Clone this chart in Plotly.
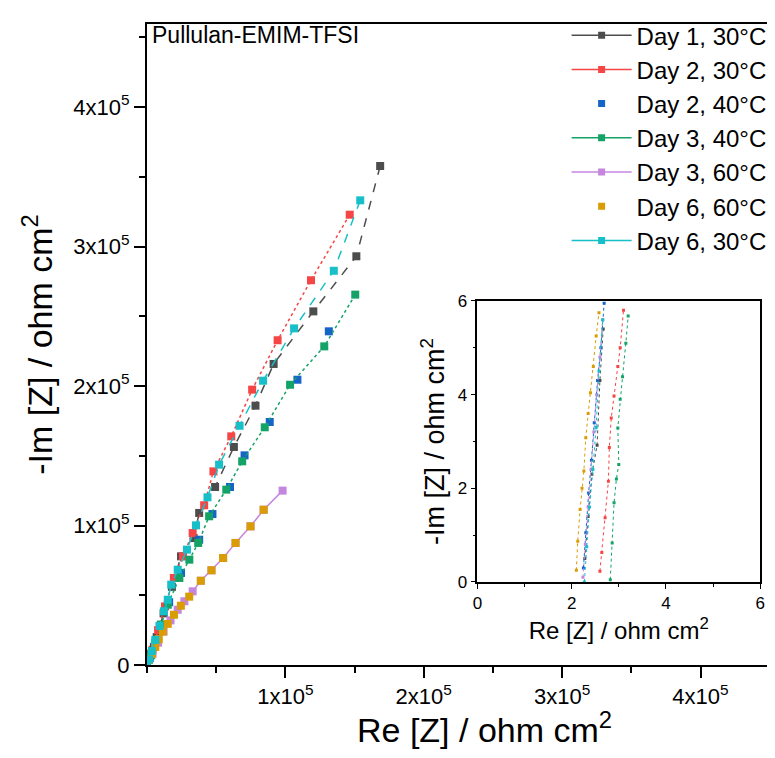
import plotly.graph_objects as go

# ---------------- data (ohm cm^2) ----------------
series_names = ["Day 1, 30°C", "Day 2, 30°C", "Day 2, 40°C", "Day 3, 40°C",
                "Day 3, 60°C", "Day 6, 60°C", "Day 6, 30°C"]
series_colors = ["#4d4d4d", "#f54545", "#1565c8", "#14a366",
                 "#c586e0", "#d99c05", "#17c0c8"]

day1_30_re = [168500, 151300, 120200, 91500, 78400, 62800, 49200, 37700, 33700, 24600, 18000, 12000, 7000, 3000, 0]
day1_30_im = [357700, 293000, 253500, 215800, 185900, 156300, 127600, 109000, 91000, 77900, 56000, 37000, 20000, 8000, 0]

day2_30_re = [146500, 118500, 94400, 76000, 60900, 48000, 41300, 33000, 26000, 19400, 13000, 8000, 4000, 0]
day2_30_im = [322800, 275800, 232800, 197400, 163900, 138800, 114500, 94600, 78000, 62400, 42000, 25000, 11000, 0]

day2_40_re = [131400, 108700, 88700, 70500, 60000, 47300, 37700, 24600, 16000, 10000, 5000, 2000]
day2_40_im = [239200, 204500, 174200, 150300, 127600, 108200, 89800, 66000, 45000, 28000, 13000, 5000]

day3_40_re = [150500, 128100, 103400, 85100, 68800, 57300, 44900, 37000, 30600, 23400, 15000, 10000, 6000, 3000, 0]
day3_40_im = [265500, 228400, 200900, 170400, 146000, 125700, 106600, 87500, 75500, 62400, 43200, 29000, 16000, 7000, 0]

day3_60_re = [98000, 84300, 74800, 64000, 55000, 46600, 38900, 33000, 27000, 22200, 17000, 12000, 8000, 4000, 0]
day3_60_im = [125000, 111300, 99400, 87500, 76700, 67900, 60400, 52800, 45700, 39600, 32000, 24000, 16000, 8000, 0]

day6_60_re = [84300, 74800, 64000, 55000, 46600, 38900, 30500, 24500, 19500, 15000, 11500, 8500, 6000, 3500, 1500]
day6_60_im = [111300, 99400, 87500, 76700, 67900, 60400, 49000, 42500, 36000, 29500, 24000, 18500, 13000, 8000, 3500]

day6_30_re = [154100, 135000, 106300, 83900, 66900, 52100, 43700, 35400, 28900, 22200, 17500, 15000, 12200, 9000, 6000, 3500, 1500, 0]
day6_30_im = [333100, 282600, 241300, 203800, 171500, 143600, 120200, 100100, 82700, 68300, 57600, 46800, 38500, 28000, 18000, 10000, 4000, 0]

# inset (high-frequency end, ohm cm^2)
inset_day1_30_re = [2.28, 2.35, 2.43, 2.54, 2.60, 2.67]
inset_day1_30_im = [0.50, 1.40, 2.30, 2.92, 4.30, 5.40]
inset_day2_30_re = [2.60, 2.64, 2.71, 2.78, 2.80, 2.84, 2.90, 2.98, 3.03, 3.10]
inset_day2_30_im = [0.23, 0.63, 1.37, 2.15, 2.87, 3.50, 3.97, 4.60, 5.00, 5.80]
inset_day2_40_re = [2.25, 2.30, 2.36, 2.42, 2.48, 2.55, 2.62, 2.69]
inset_day2_40_im = [0.30, 1.05, 1.90, 2.60, 3.40, 4.30, 5.00, 5.95]
inset_day3_40_re = [2.82, 2.86, 2.90, 2.95, 3.00, 2.98, 3.03, 3.08, 3.15, 3.20]
inset_day3_40_im = [0.05, 0.83, 1.69, 2.20, 2.51, 3.29, 3.90, 4.38, 5.10, 5.68]
inset_day3_60_re = [2.24, 2.29, 2.35, 2.41, 2.47, 2.53, 2.60, 2.66]
inset_day3_60_im = [0.10, 0.80, 1.60, 2.40, 3.20, 4.00, 4.80, 5.60]
inset_day6_60_re = [2.10, 2.13, 2.18, 2.22, 2.26, 2.30, 2.35, 2.40, 2.46, 2.52, 2.58]
inset_day6_60_im = [0.25, 0.87, 1.55, 2.00, 2.37, 3.08, 3.60, 4.04, 4.60, 5.25, 5.75]
inset_day6_30_re = [2.27, 2.32, 2.38, 2.45, 2.52, 2.58, 2.66]
inset_day6_30_im = [0.00, 0.75, 1.60, 2.40, 3.30, 4.50, 5.60]

main_re = [day1_30_re, day2_30_re, day2_40_re, day3_40_re, day3_60_re, day6_60_re, day6_30_re]
main_im = [day1_30_im, day2_30_im, day2_40_im, day3_40_im, day3_60_im, day6_60_im, day6_30_im]
inset_re = [inset_day1_30_re, inset_day2_30_re, inset_day2_40_re, inset_day3_40_re,
            inset_day3_60_re, inset_day6_60_re, inset_day6_30_re]
inset_im = [inset_day1_30_im, inset_day2_30_im, inset_day2_40_im, inset_day3_40_im,
            inset_day3_60_im, inset_day6_60_im, inset_day6_30_im]
line_dash = ["dash", "dot", None, "dot", "solid", None, "dash"]

x_tickvals = [100000, 200000, 300000, 400000]
x_ticktext = ["1x10<sup>5</sup>", "2x10<sup>5</sup>", "3x10<sup>5</sup>", "4x10<sup>5</sup>"]
y_tickvals = [0, 100000, 200000, 300000, 400000]
y_ticktext = ["0", "1x10<sup>5</sup>", "2x10<sup>5</sup>", "3x10<sup>5</sup>", "4x10<sup>5</sup>"]
inset_ticks = [0, 2, 4, 6]

FONT = "Arial, Liberation Sans, sans-serif"

fig = go.Figure()
for name, col, xs, ys, dash in zip(series_names, series_colors, main_re, main_im, line_dash):
    mode = "lines+markers" if dash else "markers"
    fig.add_trace(go.Scatter(
        x=xs, y=ys, name=name, mode=mode, showlegend=False,
        line=dict(color=col, width=1.5, dash=dash or "solid"),
        marker=dict(symbol="square", size=8, color=col),
        xaxis="x", yaxis="y"))

# legend entries (solid lines as in the original legend)
for name, col, dash in zip(series_names, series_colors, line_dash):
    mode = "lines+markers" if dash else "markers"
    fig.add_trace(go.Scatter(
        x=[None], y=[None], name=name, mode=mode, showlegend=True,
        line=dict(color=col, width=1.5),
        marker=dict(symbol="square", size=7, color=col),
        xaxis="x", yaxis="y"))

for name, col, xs, ys, dash in zip(series_names, series_colors, inset_re, inset_im, line_dash):
    fig.add_trace(go.Scatter(
        x=xs, y=ys, name=name, mode="lines+markers", showlegend=False,
        line=dict(color=col, width=1, dash="dot"),
        marker=dict(symbol="square", size=3, color=col),
        xaxis="x2", yaxis="y2"))

axis_font = dict(family=FONT, size=22, color="black")

fig.update_layout(
    width=775, height=758,
    margin=dict(l=139, r=0, t=16, b=101),
    paper_bgcolor="white", plot_bgcolor="white",
    font=dict(family=FONT, color="black"),
    showlegend=True,
    legend=dict(x=0.665, xanchor="left", y=1.017, yanchor="top",
                font=dict(family=FONT, size=24, color="black"),
                bgcolor="rgba(255,255,255,0)", borderwidth=0,
                itemwidth=60, tracegroupgap=0),
    xaxis=dict(range=[0, 456000], domain=[0, 1], showgrid=False, zeroline=False,
               showline=True, linecolor="black", linewidth=2, mirror=True,
               tickmode="array", tickvals=x_tickvals, ticktext=x_ticktext,
               ticks="outside", ticklen=11, tickwidth=2, tickcolor="black",
               tickfont=axis_font,
               minor=dict(tick0=0, dtick=50000, ticks="outside", ticklen=6,
                          tickwidth=1.5, tickcolor="black")),
    yaxis=dict(range=[0, 459500], domain=[0, 1], showgrid=False, zeroline=False,
               showline=True, linecolor="black", linewidth=2, mirror=False,
               tickmode="array", tickvals=y_tickvals, ticktext=y_ticktext,
               ticks="outside", ticklen=11, tickwidth=2, tickcolor="black",
               tickfont=axis_font,
               minor=dict(tick0=0, dtick=50000, ticks="outside", ticklen=6,
                          tickwidth=1.5, tickcolor="black"),
               title=dict(text="-Im [Z] / ohm cm<sup>2</sup>",
                          font=dict(family=FONT, size=34, color="black"), standoff=10)),
    xaxis2=dict(range=[0, 6], domain=[0.5236, 0.9717], anchor="y2",
                showgrid=False, zeroline=False, showline=True, linecolor="black",
                linewidth=1.5, mirror=True, tickmode="array", tickvals=inset_ticks,
                ticks="outside", ticklen=5, tickwidth=1.2, tickcolor="black",
                tickfont=dict(family=FONT, size=17, color="black"),
                minor=dict(tick0=1, dtick=2, ticks="outside", ticklen=3, tickcolor="black"),
                title=dict(text="Re [Z] / ohm cm<sup>2</sup>",
                           font=dict(family=FONT, size=24, color="black"), standoff=10)),
    yaxis2=dict(range=[0, 6], domain=[0.1295, 0.5679], anchor="x2",
                showgrid=False, zeroline=False, showline=True, linecolor="black",
                linewidth=1.5, mirror=True, tickmode="array", tickvals=inset_ticks,
                ticks="outside", ticklen=5, tickwidth=1.2, tickcolor="black",
                tickfont=dict(family=FONT, size=17, color="black"),
                minor=dict(tick0=1, dtick=2, ticks="outside", ticklen=3, tickcolor="black"),
                title=dict(text="-Im [Z] / ohm cm<sup>2</sup>",
                           font=dict(family=FONT, size=27, color="black"), standoff=5)),
)

# main x-axis title (slightly right of centre, as in the original)
fig.add_annotation(text="Re [Z] / ohm cm<sup>2</sup>", xref="paper", yref="paper",
                   x=0.535, y=-0.098, xanchor="center", yanchor="middle", showarrow=False,
                   font=dict(family=FONT, size=34, color="black"))

fig.add_annotation(text="Pullulan-EMIM-TFSI", xref="paper", yref="paper",
                   x=0.005, y=1.006, xanchor="left", yanchor="top", showarrow=False,
                   font=dict(family=FONT, size=23, color="black"))

# white background for inset
fig.add_shape(type="rect", xref="x2 domain", yref="y2 domain", x0=0, x1=1, y0=0, y1=1,
              fillcolor="white", line=dict(width=0), layer="below")

fig.write_html("out.html")
